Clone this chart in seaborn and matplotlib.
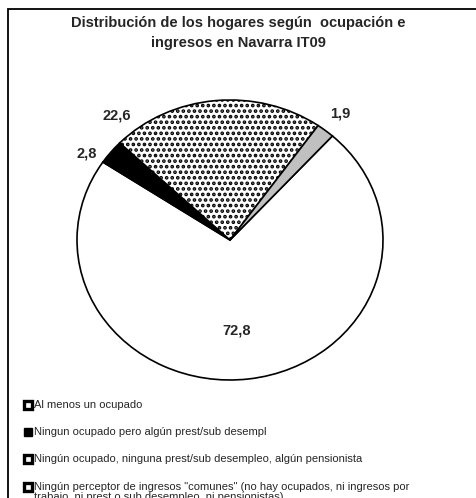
import numpy as np
import matplotlib.pyplot as plt
import matplotlib.patches as mpatches
import seaborn as sns

# datos del gráfico
categorias = ['Al menos un ocupado',
              'Ningun ocupado pero algún prest/sub desempl',
              'Ningún ocupado, ninguna prest/sub desempleo, algún pensionista',
              'Ningún perceptor de ingresos "comunes" (no hay ocupados, ni ingresos por\ntrabajo, ni prest o sub desempleo, ni pensionistas)']
valores = [72.8, 2.8, 22.6, 1.9]
etiquetas = ['72,8', '2,8', '22,6', '1,9']
colores = ['white', 'black', 'white', '#c0c0c0']
tramas = ['', '', '...', '']

sns.set_theme(style='white')
plt.rcParams['font.family'] = ['Liberation Sans', 'DejaVu Sans']
plt.rcParams['hatch.linewidth'] = 1.8

W, H = 476, 498
fig = plt.figure(figsize=(W / 100, H / 100), dpi=100)
fig.patch.set_facecolor('white')

# marco (solo arriba e izquierda visibles)
fig.patches.append(mpatches.Rectangle((8 / W, -0.1), 1.2, 1 - 9.5 / H + 0.1,
                                      transform=fig.transFigure, fill=False,
                                      edgecolor='black', linewidth=1.3))

fig.text(238 / W, 1 - 33 / H, 'Distribución de los hogares según  ocupación e\ningresos en Navarra IT09',
         ha='center', va='center', fontsize=10.5, fontweight='bold', linespacing=1.5)

ax = fig.add_axes([77 / W, 1 - 380 / H, 306 / W, 280 / H])
wedges, _ = ax.pie(valores, colors=colores, startangle=48, counterclock=False,
                   wedgeprops=dict(edgecolor='black', linewidth=1.2))
for w, t in zip(wedges, tramas):
    w.set_hatch(t)
ax.set_aspect('auto')
ax.set_xlim(-1, 1)
ax.set_ylim(-1, 1)
ax.axis('off')

# posiciones de las etiquetas (pixeles)
pos_etiquetas = [(237, 330), (87, 153), (117, 115), (340, 113)]
for (x, y), txt in zip(pos_etiquetas, etiquetas):
    fig.text(x / W, 1 - y / H, txt, ha='center', va='center', fontsize=10.5, fontweight='bold')

# leyenda manual
ys = [405, 432, 459, 487]
for y, cat, c in zip(ys, categorias, colores):
    negro = c == 'black'
    fig.patches.append(mpatches.Rectangle((24 / W, 1 - (y + 4) / H), 8 / W, 8 / H,
                                          transform=fig.transFigure,
                                          facecolor='black' if negro else 'white',
                                          edgecolor='black', linewidth=1 if negro else 2.4))
    fig.text(34 / W, 1 - (y - 5.5) / H, cat, ha='left', va='top', fontsize=8, linespacing=1.05)

fig.savefig('out.png', dpi=100)
